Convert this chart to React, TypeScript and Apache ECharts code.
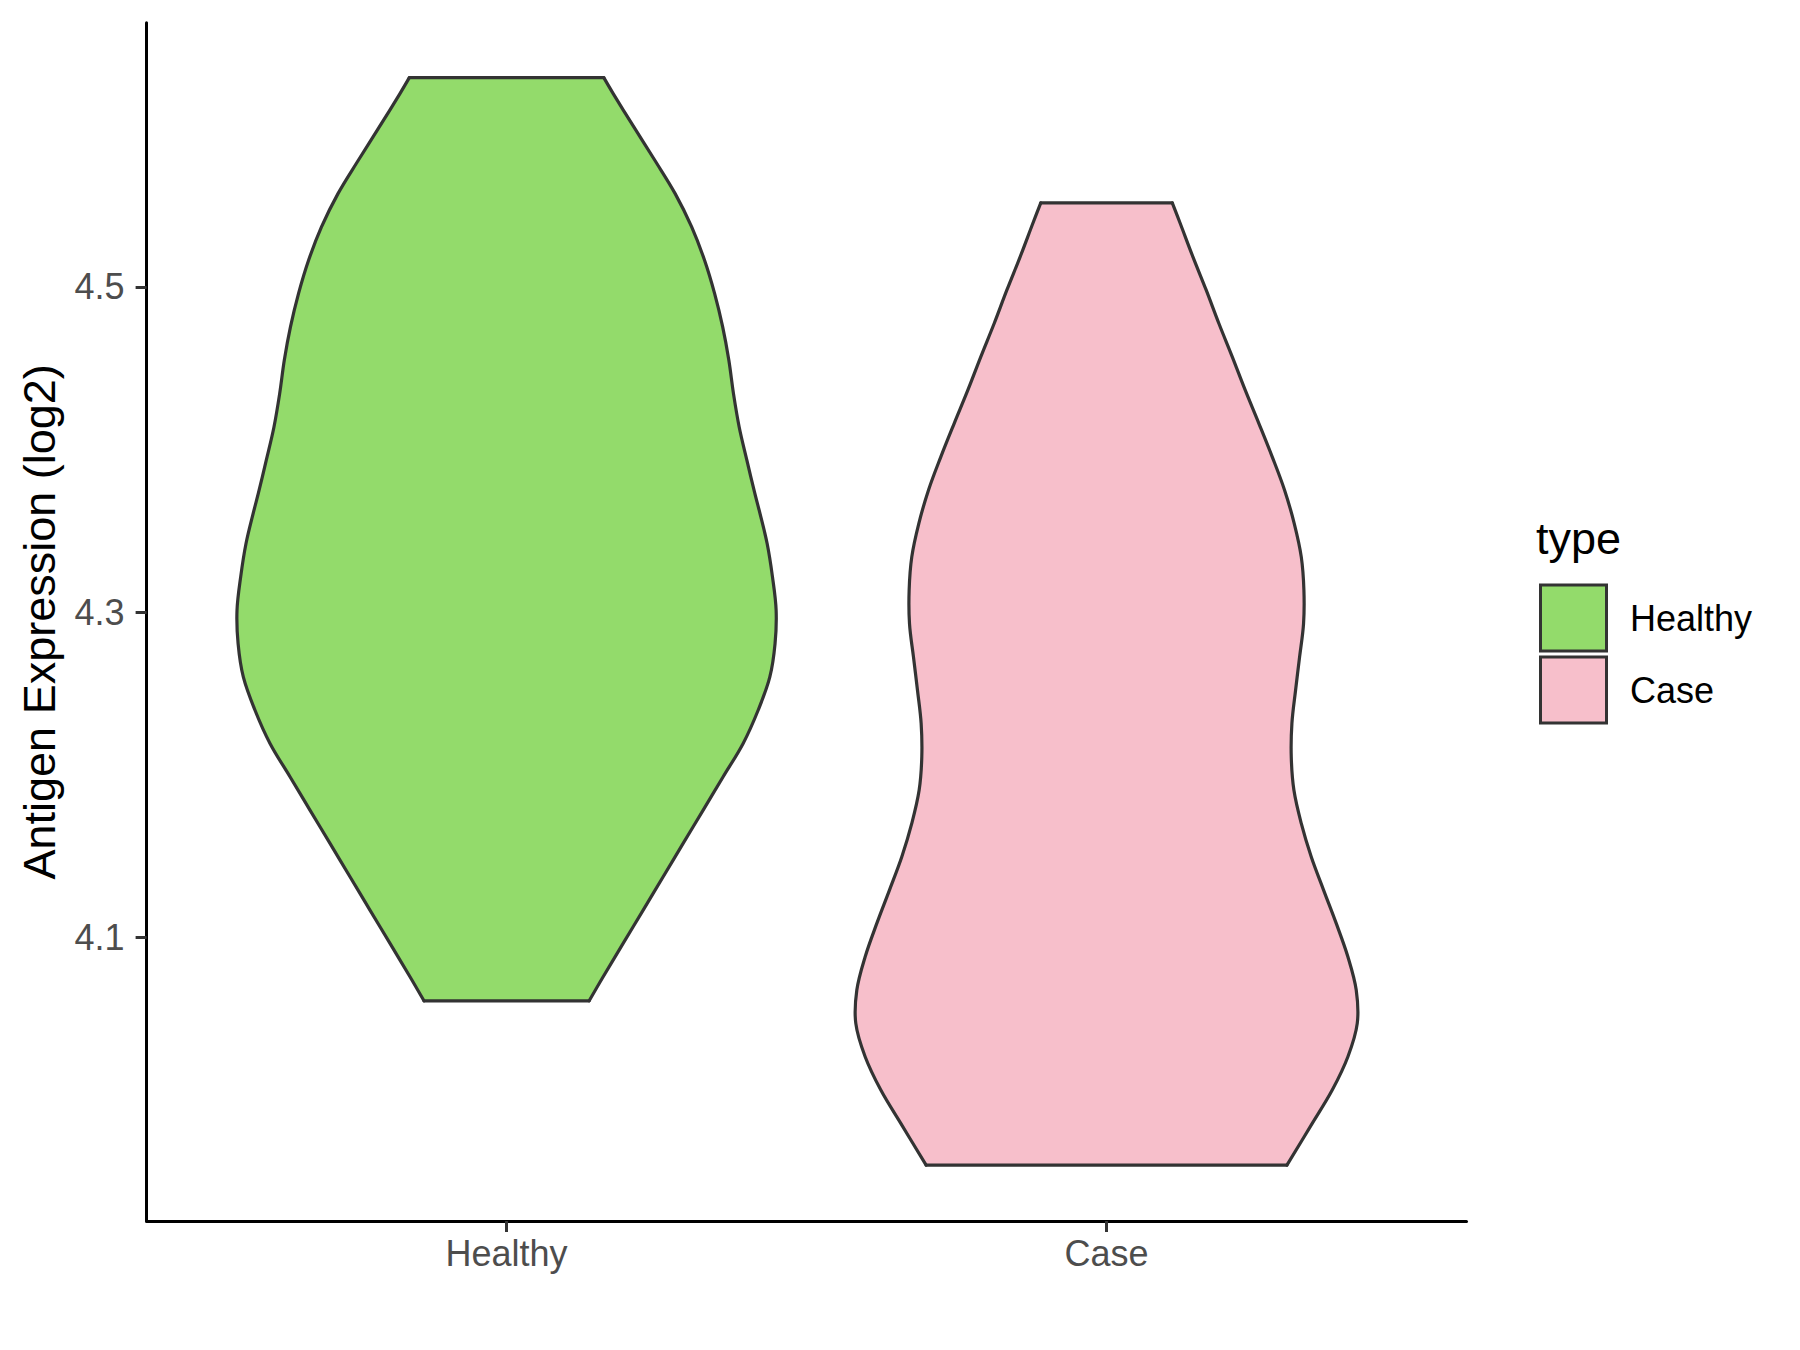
import React, { useEffect, useRef } from "react";
import * as echarts from "echarts";

// Categories and legend
const categories = ["Healthy", "Case"];
const fills = ["#93DB6B", "#F7BFCB"];

// Violin outlines: expression value (log2) and half-width (fraction of category spacing)
const healthyValues = [
  4.6287, 4.6189, 4.5984, 4.5779, 4.5574, 4.5369, 4.5164, 4.4959, 4.4754, 4.4549,
  4.4344, 4.4139, 4.3935, 4.373, 4.3627, 4.3422, 4.3217, 4.3012, 4.2807, 4.2602,
  4.2397, 4.2193, 4.1988, 4.1783, 4.1578, 4.1373, 4.1168, 4.0963, 4.0758, 4.061,
];
const healthyHalfWidths = [
  0.1621, 0.1777, 0.2121, 0.2471, 0.281, 0.3085, 0.33, 0.3468, 0.3602, 0.3705,
  0.3782, 0.3877, 0.4005, 0.4138, 0.421, 0.4343, 0.4432, 0.4493, 0.4475, 0.4388,
  0.4193, 0.3943, 0.361, 0.3277, 0.2943, 0.261, 0.2277, 0.1943, 0.161, 0.1377,
];
const caseValues = [
  4.5517, 4.539, 4.5185, 4.498, 4.4775, 4.457, 4.4365, 4.416, 4.3955, 4.375,
  4.3545, 4.334, 4.3135, 4.293, 4.2725, 4.252, 4.2316, 4.2111, 4.1906, 4.1701,
  4.1496, 4.1291, 4.1086, 4.0881, 4.0676, 4.0471, 4.0266, 4.0061, 3.9856, 3.96,
];
const caseHalfWidths = [
  0.1096, 0.1229, 0.144, 0.1662, 0.1873, 0.2096, 0.2312, 0.254, 0.2762, 0.2968,
  0.3129, 0.3246, 0.329, 0.3284, 0.3218, 0.3151, 0.309, 0.3079, 0.3123, 0.3246,
  0.3412, 0.3618, 0.3829, 0.4023, 0.4162, 0.4179, 0.4023, 0.3762, 0.3429, 0.3007,
];

const yTicks = [4.1, 4.3, 4.5];
const xTicks = [1, 2];
const yMin = 3.9256;
const yMax = 4.6625;

const FONT = "'Liberation Sans', Arial, Helvetica, sans-serif";
const OUTLINE = "#333333";

function makeViolinSeries(
  name: string,
  pos: number,
  values: number[],
  halfWidths: number[],
  fill: string
) {
  return {
    type: "custom",
    name,
    itemStyle: { color: fill },
    data: [[pos, values[0]]],
    renderItem: (_params: any, api: any) => {
      const left = values.map((v, i) => api.coord([pos - halfWidths[i], v]));
      const right = values.map((v, i) => api.coord([pos + halfWidths[i], v]));
      const n = values.length;
      const strokeStyle = {
        fill: "none",
        stroke: OUTLINE,
        lineWidth: 3.2,
        lineJoin: "round",
        lineCap: "round",
      };
      return {
        type: "group",
        children: [
          {
            type: "polygon",
            shape: { points: [...left, ...right.slice().reverse()] },
            style: { fill, stroke: fill, lineWidth: 1 },
          },
          {
            type: "polyline",
            shape: { points: left, smooth: 0.35 },
            style: strokeStyle,
          },
          {
            type: "polyline",
            shape: { points: right, smooth: 0.35 },
            style: strokeStyle,
          },
          {
            type: "line",
            shape: { x1: left[0][0], y1: left[0][1], x2: right[0][0], y2: right[0][1] },
            style: strokeStyle,
          },
          {
            type: "line",
            shape: {
              x1: left[n - 1][0],
              y1: left[n - 1][1],
              x2: right[n - 1][0],
              y2: right[n - 1][1],
            },
            style: strokeStyle,
          },
        ],
      };
    },
  };
}

export default function App() {
  const ref = useRef<HTMLDivElement>(null);

  useEffect(() => {
    if (!ref.current) return;
    const chart = echarts.init(ref.current, undefined, { renderer: "svg" });
    chart.setOption({
      animation: false,
      backgroundColor: "#FFFFFF",
      grid: { left: 146.6, right: 333.5, top: 22.7, bottom: 129 },
      xAxis: {
        type: "value",
        min: 0.4,
        max: 2.6,
        splitLine: { show: false },
        axisLine: { show: true, lineStyle: { color: "#000000", width: 3 } },
        axisTick: {
          show: true,
          customValues: xTicks,
          length: 11,
          lineStyle: { color: "#333333", width: 3 },
        },
        axisLabel: {
          customValues: xTicks,
          formatter: (v: number) => categories[Math.round(v) - 1] ?? "",
          fontSize: 36,
          color: "#4D4D4D",
          fontFamily: FONT,
          margin: 14,
        },
      },
      yAxis: {
        type: "value",
        min: yMin,
        max: yMax,
        name: "Antigen Expression (log2)",
        nameLocation: "middle",
        nameGap: 85,
        nameTextStyle: { fontSize: 45, color: "#000000", fontFamily: FONT },
        splitLine: { show: false },
        axisLine: { show: true, lineStyle: { color: "#000000", width: 3 } },
        axisTick: {
          show: true,
          customValues: yTicks,
          length: 11,
          lineStyle: { color: "#333333", width: 3 },
        },
        axisLabel: {
          customValues: yTicks,
          formatter: (v: number) => v.toFixed(1),
          fontSize: 36,
          color: "#4D4D4D",
          fontFamily: FONT,
          margin: 22,
        },
      },
      legend: {
        orient: "vertical",
        left: 1539,
        top: 583.5,
        padding: 0,
        itemWidth: 66,
        itemHeight: 66,
        itemGap: 3,
        icon: "rect",
        itemStyle: { borderColor: "#333333", borderWidth: 3 },
        textStyle: {
          fontSize: 36,
          color: "#000000",
          fontFamily: FONT,
          padding: [0, 0, 0, 18.5],
        },
        data: categories,
      },
      graphic: [
        {
          type: "text",
          left: 1536,
          top: 516,
          style: {
            text: "type",
            fontSize: 45,
            fill: "#000000",
            fontFamily: FONT,
          },
        },
      ],
      series: [
        makeViolinSeries(categories[0], 1, healthyValues, healthyHalfWidths, fills[0]),
        makeViolinSeries(categories[1], 2, caseValues, caseHalfWidths, fills[1]),
      ],
    });
    return () => chart.dispose();
  }, []);

  return (
    <div
      ref={ref}
      style={{ position: "absolute", left: 0, top: 0, width: 1800, height: 1350 }}
    />
  );
}
